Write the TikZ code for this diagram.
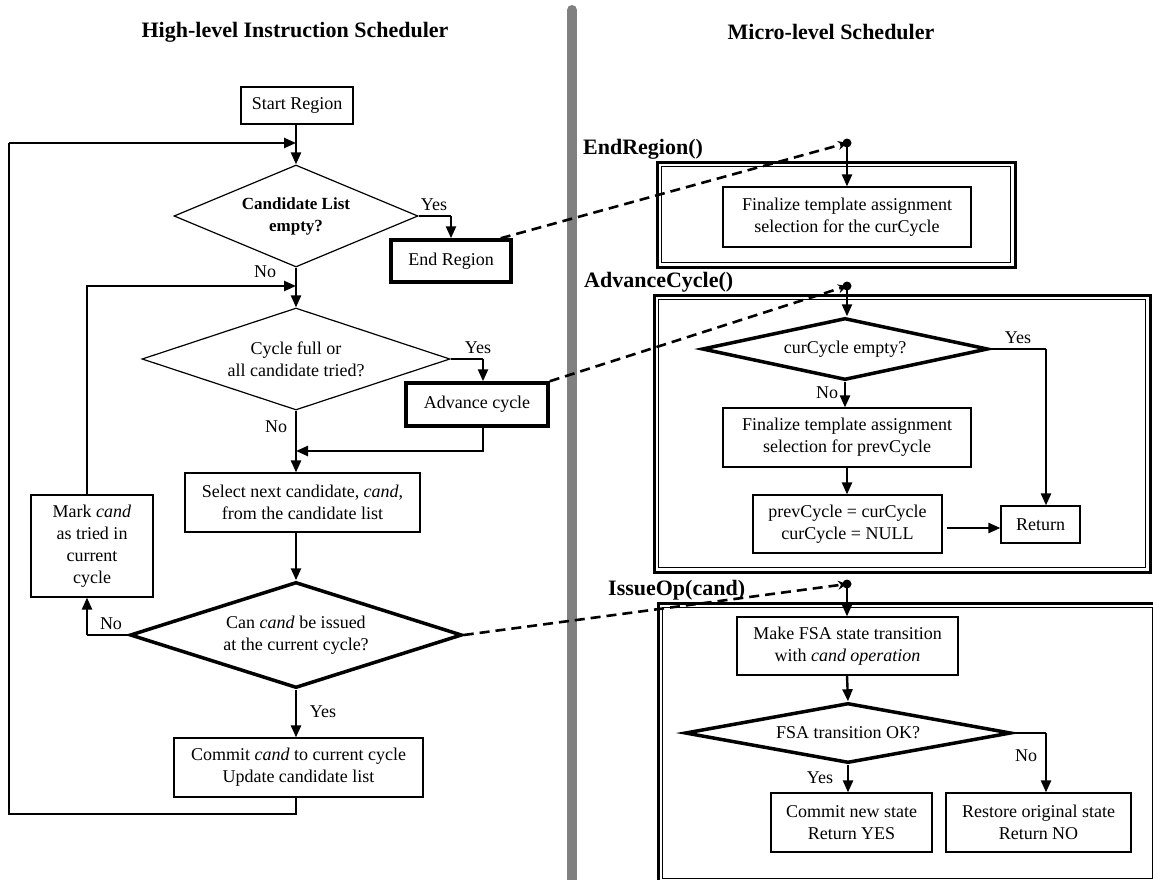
\documentclass[tikz,border=0pt]{standalone}
\usepackage{fontspec}
\setmainfont{Liberation Serif}
\usetikzlibrary{shapes.geometric,arrows.meta,calc}

\begin{document}
\begin{tikzpicture}[x=1pt,y=-1pt,
  every node/.style={font=\fontsize{18}{22}\selectfont},
  box/.style={draw,line width=1.2pt,align=center,inner sep=0pt},
  thickbox/.style={box,line width=3.5pt},
  decision/.style={draw,diamond,line width=1.2pt,align=center,inner sep=0pt},
  thickdecision/.style={decision,line width=3.5pt},
  arr/.style={line width=2.4pt,-{Triangle[length=12pt,width=10pt]}},
  plain/.style={line width=1.3pt},
  link/.style={line width=2.6pt,dash pattern=on 10pt off 6pt,-{Stealth[length=9pt,width=9pt]}},
  outer/.style={line width=3pt},
  inner/.style={line width=1.2pt},
  hdr/.style={font=\fontsize{22}{26}\selectfont\bfseries},
  fname/.style={font=\fontsize{22}{26}\selectfont\bfseries,anchor=west,inner sep=0pt}]
\useasboundingbox (0,0) rectangle (1153,880);

% divider
\draw[gray,line width=10pt,line cap=round] (572,10) -- (572,890);
\node[hdr] (hl) at (295,32) {High-level Instruction Scheduler};
\node[hdr] (ml) at (831,32) {Micro-level Scheduler};

% high-level scheduler
\node[box,minimum width=112pt,minimum height=37pt] (start) at (297,105.5) {Start Region};
\node[decision,aspect=2.39,minimum width=244pt,minimum height=102pt,font=\fontsize{17}{22}\selectfont\bfseries] (cand) at (296,216) {Candidate List\\empty?};
\node[thickbox,minimum width=120pt,minimum height=42pt] (endreg) at (451,261) {End Region};
\node[decision,aspect=3.02,minimum width=308pt,minimum height=102pt] (full) at (296,359) {Cycle full or\\all candidate tried?};
\node[thickbox,minimum width=142pt,minimum height=43pt] (adv) at (477,404.5) {Advance cycle};
\node[box,minimum width=235pt,minimum height=59pt] (sel) at (302.5,502.5) {Select next candidate, \textit{cand},\\from the candidate list};
\node[box,minimum width=122pt,minimum height=102pt] (mark) at (92,546) {Mark \textit{cand}\\as tried in\\current\\cycle};
\node[thickdecision,aspect=3.13,minimum width=332pt,minimum height=106pt] (issue) at (296,635) {Can \textit{cand} be issued\\at the current cycle?};
\node[box,minimum width=249pt,minimum height=59pt] (commit) at (298.5,767.5) {Commit \textit{cand} to current cycle\\Update candidate list};

\node (yes1) at (434,205) {Yes};
\node (no1) at (265,272) {No};
\node (yes2) at (478,348) {Yes};
\node (no2) at (276,427) {No};
\node (no3) at (111,624) {No};
\node (yes3) at (323,712) {Yes};

\coordinate (j1) at (296,143);
\coordinate (j2) at (296,286);
\coordinate (j3) at (296,451);
\coordinate (lp1) at (9,814);
\coordinate (lp2) at (87,286);

\draw[arr] (start.south -| j1) -- (cand.north);
\draw[plain] (cand.east) -- (cand.east -| endreg.north);
\draw[arr] (cand.east -| endreg.north) -- (endreg.north);
\draw[arr] (cand.south) -- (full.north);
\draw[plain] (full.east) -- ($(full.east -| adv.north)+(6,0)$);
\draw[arr] ($(full.east -| adv.north)+(6,0)$) -- ($(adv.north)+(6,0)$);
\draw[plain] ($(adv.south)+(6,0)$) -- ($(adv.south |- j3)+(6,0)$) -- ($(j3)+(20,0)$);
\draw[arr] ($(j3)+(20,0)$) -- (j3);
\draw[arr] (full.south) -- (j3 |- sel.north);
\draw[arr] (j3 |- sel.south) -- (issue.north);
\draw[arr] (issue.south) -- (commit.north -| issue.south);
\draw[plain] (issue.west) -- (issue.west -| lp2);
\draw[arr] (issue.west -| lp2) -- (lp2 |- mark.south);
\draw[plain] (lp2 |- mark.north) -- ($(lp2)+(0,-1)$);
\draw[arr] (lp2) -- (j2);
\draw[plain] (commit.south -| j1) |- (lp1) -- (lp1 |- j1);
\draw[arr] (lp1 |- j1) -- (j1);

% micro-level scheduler frames
\foreach \xa/\ya/\xb/\yb in {657/162/1015/267, 654/295/1150/572, 658/603/1157/883}
{
  \draw[outer] (\xa,\ya) rectangle (\xb,\yb);
  \draw[inner] (\xa+4.5,\ya+4.5) rectangle (\xb-4.5,\yb-4.5);
}
\node[fname] (fend) at (583,149) {EndRegion()};
\node[fname] (fadv) at (584,282) {AdvanceCycle()};
\node[fname] (fiss) at (608,590) {IssueOp(cand)};

\coordinate (dotE) at (847,143);
\coordinate (dotA) at (847,286);
\coordinate (dotI) at (847,584);

\node[box,minimum width=248pt,minimum height=60pt] (fin1) at (847,217) {Finalize template assignment\\selection for the curCycle};
\node[thickdecision,aspect=4.6,minimum width=286pt,minimum height=62pt] (empty) at (845,349) {curCycle empty?};
\node[box,minimum width=248pt,minimum height=59pt] (fin2) at (847,437.5) {Finalize template assignment\\selection for prevCycle};
\node[box,minimum width=189pt,minimum height=58pt] (swap) at (847.5,524) {prevCycle = curCycle\\curCycle = NULL};
\node[box,minimum width=79pt,minimum height=37pt] (ret) at (1040.5,524.5) {Return};
\node[box,minimum width=221pt,minimum height=58pt] (fsa) at (847.5,646) {Make FSA state transition\\with \textit{cand operation}};
\node[thickdecision,aspect=5.43,minimum width=326pt,minimum height=60pt] (ok) at (848,733) {FSA transition OK?};
\node[box,minimum width=161pt,minimum height=59pt] (cnew) at (851.5,822.5) {Commit new state\\Return YES};
\node[box,minimum width=185pt,minimum height=59pt] (rest) at (1038.5,822.5) {Restore original state\\Return NO};

\node (yes4) at (1018,338) {Yes};
\node (no4) at (827,393) {No};
\node (yes5) at (820,778) {Yes};
\node (no5) at (1026,756) {No};

\draw[arr] (dotE) -- (fin1.north);
\draw[arr] (dotA) -- (empty.north -| dotA);
\draw[arr] (empty.south) -- (fin2.north -| empty.south);
\draw[plain] (empty.east) -- ($(empty.east -| ret.north)+(5.5,0)$);
\draw[arr] ($(empty.east -| ret.north)+(5.5,0)$) -- ($(ret.north)+(5.5,0)$);
\draw[arr] (fin2.south -| dotA) -- (swap.north -| dotA);
\draw[arr] ($(swap.east)+(4,4)$) -- ($(ret.west)+(0,3.5)$);
\draw[arr] (dotI) -- (fsa.north -| dotI);
\draw[arr] (fsa.south -| dotI) -- (ok.north);
\draw[arr] (ok.south) -- (cnew.north -| ok.south);
\draw[plain] (ok.east) -- ($(ok.east -| rest.north)+(7.5,0)$);
\draw[arr] ($(ok.east -| rest.north)+(7.5,0)$) -- ($(rest.north)+(7.5,0)$);

% calls across the divider
\draw[link] ($(endreg.north east)+(-12,0)$) -- (dotE);
\draw[link] (adv.north east) -- (dotA);
\draw[link] (issue.east) -- (dotI);
\foreach \d in {dotE,dotA,dotI}
  \fill (\d) circle (4.5pt);
\end{tikzpicture}
\end{document}
